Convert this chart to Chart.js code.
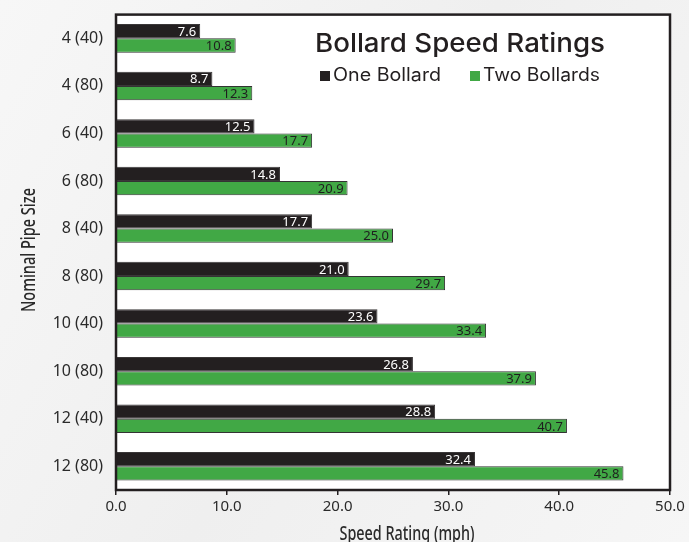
<!DOCTYPE html>
<html>
<head>
<meta charset="utf-8">
<script src="https://cdn.jsdelivr.net/npm/chart.js@4"></script>
<style>
  html, body { margin: 0; padding: 0; }
  body { width: 689px; height: 542px; background: linear-gradient(120deg, #f7f7f7 0%, #efefef 50%, #f6f6f6 100%); overflow: hidden; }
  #wrap { position: relative; width: 689px; height: 542px; }
</style>
</head>
<body>
<div id="wrap"><canvas id="bollardChart" width="689" height="542"></canvas></div>
<script>
var pipeSizes = ["4 (40)", "4 (80)", "6 (40)", "6 (80)", "8 (40)", "8 (80)", "10 (40)", "10 (80)", "12 (40)", "12 (80)"];
var oneBollard = [7.6, 8.7, 12.5, 14.8, 17.7, 21.0, 23.6, 26.8, 28.8, 32.4];
var twoBollards = [10.8, 12.3, 17.7, 20.9, 25.0, 29.7, 33.4, 37.9, 40.7, 45.8];
var xTicks = [0, 10, 20, 30, 40, 50];

var darkColor = '#231f20';
var greenColor = '#41a845';

// draw text squeezed/stretched to a given width
function fitText(c, text, x, y, width, rotate) {
    var w = c.measureText(text).width;
    c.save();
    c.translate(x, y);
    if (rotate) c.rotate(-Math.PI / 2);
    c.scale(width / w, 1);
    c.fillText(text, 0, 0);
    c.restore();
}

// white plot area + heavy frame, title/legend inside the plot, axis titles
var plotFrame = {
    id: 'plotFrame',
    beforeDatasetsDraw: function (chart) {
        var a = chart.chartArea, c = chart.ctx;
        c.save();
        c.fillStyle = '#ffffff';
        c.fillRect(a.left, a.top, a.right - a.left, a.bottom - a.top);
        c.restore();
    },
    afterDraw: function (chart) {
        var a = chart.chartArea, c = chart.ctx;
        c.save();
        c.strokeStyle = darkColor;
        c.lineWidth = 2.5;
        c.strokeRect(a.left, a.top, a.right - a.left, a.bottom - a.top);

        c.fillStyle = darkColor;
        c.textBaseline = 'middle';
        c.textAlign = 'left';
        c.font = '500 26px Inter, "Noto Sans", sans-serif';
        fitText(c, 'Bollard Speed Ratings', 315, 44, 290);

        c.font = '18px Inter, "Noto Sans", sans-serif';
        c.fillRect(320, 71, 10, 10);
        fitText(c, 'One Bollard', 333, 76, 108);
        c.fillStyle = greenColor;
        c.fillRect(470, 71, 10, 10);
        c.fillStyle = darkColor;
        fitText(c, 'Two Bollards', 483, 76, 117);

        // axis titles in a narrow face
        c.fillStyle = '#2a2a2a';
        c.textAlign = 'center';
        c.textBaseline = 'alphabetic';
        c.font = '500 19px "Noto Sans", sans-serif';
        fitText(c, 'Speed Rating (mph)', 407, 540, 135);
        fitText(c, 'Nominal Pipe Size', 35, 250, 124, true);
        c.restore();
    }
};

// value labels at the inner end of each bar
var barValues = {
    id: 'barValues',
    afterDatasetsDraw: function (chart) {
        var c = chart.ctx;
        c.save();
        c.font = '13px "Noto Sans", sans-serif';
        c.textAlign = 'right';
        c.textBaseline = 'middle';
        chart.data.datasets.forEach(function (ds, i) {
            var meta = chart.getDatasetMeta(i);
            c.fillStyle = i === 0 ? '#ffffff' : '#1e1e1e';
            meta.data.forEach(function (bar, j) {
                c.fillText(ds.data[j].toFixed(1), bar.x - 4, bar.y + 1);
            });
        });
        c.restore();
    }
};

var ctx = document.getElementById('bollardChart').getContext('2d');
var chart = new Chart(ctx, {
    type: 'bar',
    data: {
        labels: pipeSizes,
        datasets: [{
            label: 'One Bollard',
            data: oneBollard,
            backgroundColor: darkColor,
            borderColor: '#3a3738',
            borderWidth: 1,
            borderSkipped: 'left'
        }, {
            label: 'Two Bollards',
            data: twoBollards,
            backgroundColor: greenColor,
            borderColor: '#333333',
            borderWidth: 1,
            borderSkipped: 'left'
        }]
    },
    options: {
        indexAxis: 'y',
        responsive: false,
        animation: false,
        layout: { padding: { top: 2, right: 19, left: 0, bottom: 0 } },
        datasets: { bar: { barPercentage: 1.0, categoryPercentage: 0.6 } },
        plugins: {
            legend: { display: false },
            tooltip: { enabled: false }
        },
        scales: {
            x: {
                min: 0,
                max: 50,
                afterBuildTicks: function (axis) {
                    axis.ticks = xTicks.map(function (v) { return { value: v }; });
                },
                afterFit: function (axis) { axis.height = 52; },
                grid: { drawOnChartArea: false, drawTicks: true, tickLength: 5, color: darkColor, lineWidth: 1.5 },
                border: { display: false },
                ticks: {
                    padding: 3,
                    color: '#2a2a2a',
                    font: { family: '"Noto Sans", sans-serif', size: 15 },
                    callback: function (v) { return Number(v).toFixed(1); }
                }
            },
            y: {
                afterFit: function (axis) { axis.width = 116; },
                grid: { display: false },
                border: { display: false },
                ticks: {
                    padding: 5,
                    color: '#2a2a2a',
                    font: { family: '"Noto Sans", sans-serif', size: 16 }
                }
            }
        }
    },
    plugins: [plotFrame, barValues]
});
</script>
</body>
</html>
